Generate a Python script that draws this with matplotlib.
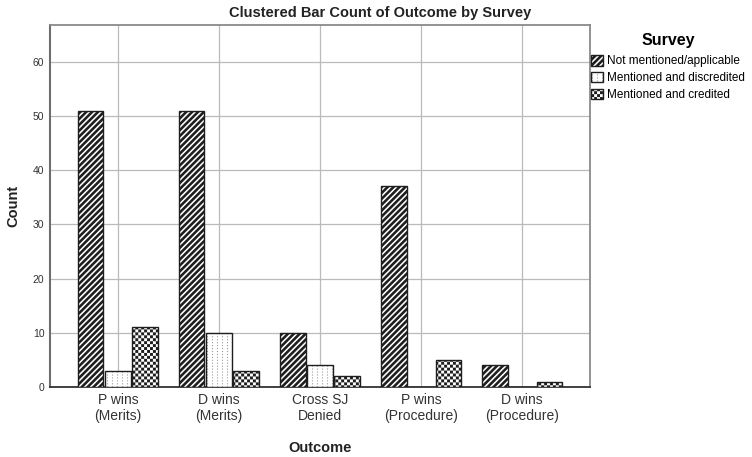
import numpy as np
import matplotlib
matplotlib.use('Agg')
import matplotlib.pyplot as plt
import matplotlib.hatch as mhatch
from matplotlib.path import Path
from matplotlib.patches import Patch
from matplotlib.legend_handler import HandlerTuple

# ---------------- data ----------------
categories = ["P wins\n(Merits)", "D wins\n(Merits)", "Cross SJ\nDenied",
              "P wins\n(Procedure)", "D wins\n(Procedure)"]
series_names = ["Not mentioned/applicable", "Mentioned and discredited",
                "Mentioned and credited"]
not_mentioned = [51, 51, 10, 37, 4]
discredited = [3, 10, 4, 0, 0]
credited = [11, 3, 2, 5, 1]
yticks = [0, 10, 20, 30, 40, 50, 60]

title = "Clustered Bar Count of Outcome by Survey"
xlabel = "Outcome"
ylabel = "Count"
legend_title = "Survey"

# ---------------- custom filled hatch patterns ----------------
class _FilledHatch(mhatch.HatchPatternBase):
    key = ''

    def __init__(self, hatch, density):
        self.polys = self.make_polys() if (hatch and self.key in hatch) else []
        self.num_vertices = 5 * len(self.polys)

    def make_polys(self):
        return []

    def set_vertices_and_codes(self, vertices, codes):
        for k, poly in enumerate(self.polys):
            vertices[5 * k:5 * k + 4] = poly
            vertices[5 * k + 4] = poly[0]
            codes[5 * k] = Path.MOVETO
            codes[5 * k + 1:5 * k + 4] = Path.LINETO
            codes[5 * k + 4] = Path.CLOSEPOLY


class Stripes(_FilledHatch):
    key = '/'

    def make_polys(self):
        n = 17
        w = 0.62 / n
        polys = []
        for i in range(-n - 1, n + 2):
            c = i / n
            polys.append([(-0.05, -0.05 + c), (1.05, 1.05 + c),
                          (1.05, 1.05 + c + w), (-0.05, -0.05 + c + w)])
        return polys


class Checker(_FilledHatch):
    key = 'O'

    def make_polys(self):
        n = 34
        s = 1.0 / n
        polys = []
        for i in range(n):
            for j in range(n):
                if (i + j) % 2 == 0:
                    x0, y0 = i * s, j * s
                    polys.append([(x0, y0), (x0 + s, y0), (x0 + s, y0 + s), (x0, y0 + s)])
        return polys


class Dots(_FilledHatch):
    key = '.'

    def make_polys(self):
        nc, nr = 20, 34
        d = 0.011
        polys = []
        for i in range(nc):
            for j in range(nr):
                x0 = (i + 0.5) / nc - d / 2
                y0 = (j + 0.5) / nr - d / 2
                polys.append([(x0, y0), (x0 + d, y0), (x0 + d, y0 + d), (x0, y0 + d)])
        return polys


mhatch._hatch_types = [Stripes, Checker, Dots]

# ---------------- style ----------------
plt.rcParams['font.family'] = ['Liberation Sans', 'DejaVu Sans']
plt.rcParams['hatch.linewidth'] = 0.0

W, H = 752, 457
fig = plt.figure(figsize=(W / 100, H / 100), dpi=100)
ax = fig.add_axes([50 / W, 1 - 387 / H, 540 / W, 362 / H])

x = np.arange(len(categories))
off = 0.272
bw = 0.257
edge = '#1e1e1e'

ax.bar(x - off, not_mentioned, bw, facecolor='white', edgecolor=edge,
       hatch='/', linewidth=1.0, zorder=3)
ax.bar(x, discredited, bw, facecolor='white', edgecolor='#9a9a9a',
       hatch='.', linewidth=0, zorder=3)
ax.bar(x, discredited, bw, fill=False, edgecolor=edge, linewidth=1.0, zorder=3.1)
ax.bar(x + off, credited, bw, facecolor='white', edgecolor=edge,
       hatch='O', linewidth=1.0, zorder=3)

ax.set_xlim(-0.673, len(categories) - 1 + 0.673)
ax.set_ylim(0, 66.8)
ax.set_yticks(yticks)
ax.set_xticks(x)
ax.set_xticklabels(categories, fontsize=10, color='#333333', linespacing=1.15)
ax.tick_params(axis='y', length=0, pad=4, labelsize=7.5, labelcolor='#333333')
ax.tick_params(axis='x', length=0, pad=4.5)

ax.set_axisbelow(True)
ax.grid(True, axis='both', color='#bababa', linewidth=0.9)

for side in ['top', 'right']:
    ax.spines[side].set_color('#8a8a8a')
    ax.spines[side].set_linewidth(1.3)
ax.spines['left'].set_color('#6e6e6e')
ax.spines['left'].set_linewidth(1.5)
ax.spines['bottom'].set_color('#333333')
ax.spines['bottom'].set_linewidth(1.3)

ax.set_xlabel(xlabel, fontsize=10.5, fontweight='bold', color='#222222', va='center')
ax.xaxis.set_label_coords(0.5, (387 - 448) / 362)
ax.set_ylabel(ylabel, fontsize=10.5, fontweight='bold', color='#222222', va='center')
ax.yaxis.set_label_coords((13 - 50) / 540, 0.5)

fig.text(380 / W, 1 - 13 / H, title, ha='center', va='center',
         fontsize=10.5, fontweight='bold', color='#222222')

h1 = Patch(facecolor='white', edgecolor=edge, hatch='/', linewidth=1.0)
h2 = (Patch(facecolor='white', edgecolor='#9a9a9a', hatch='.', linewidth=0),
      Patch(fill=False, edgecolor=edge, linewidth=1.0))
h3 = Patch(facecolor='white', edgecolor=edge, hatch='O', linewidth=1.0)

fig.legend(handles=[h1, h2, h3], labels=series_names,
           handler_map={tuple: HandlerTuple(ndivide=1, pad=0)},
           loc='upper left', bbox_to_anchor=(591 / W, 1 - 33 / H),
           frameon=False, fontsize=8.5, title=legend_title,
           title_fontproperties={'weight': 'bold', 'size': 11.5},
           handlelength=1.0, handleheight=1.0, handletextpad=0.35,
           labelspacing=0.38, borderpad=0, borderaxespad=0)
leg = fig.legends[0]
leg._legend_box.sep = 5

fig.savefig('out.png', dpi=100)
